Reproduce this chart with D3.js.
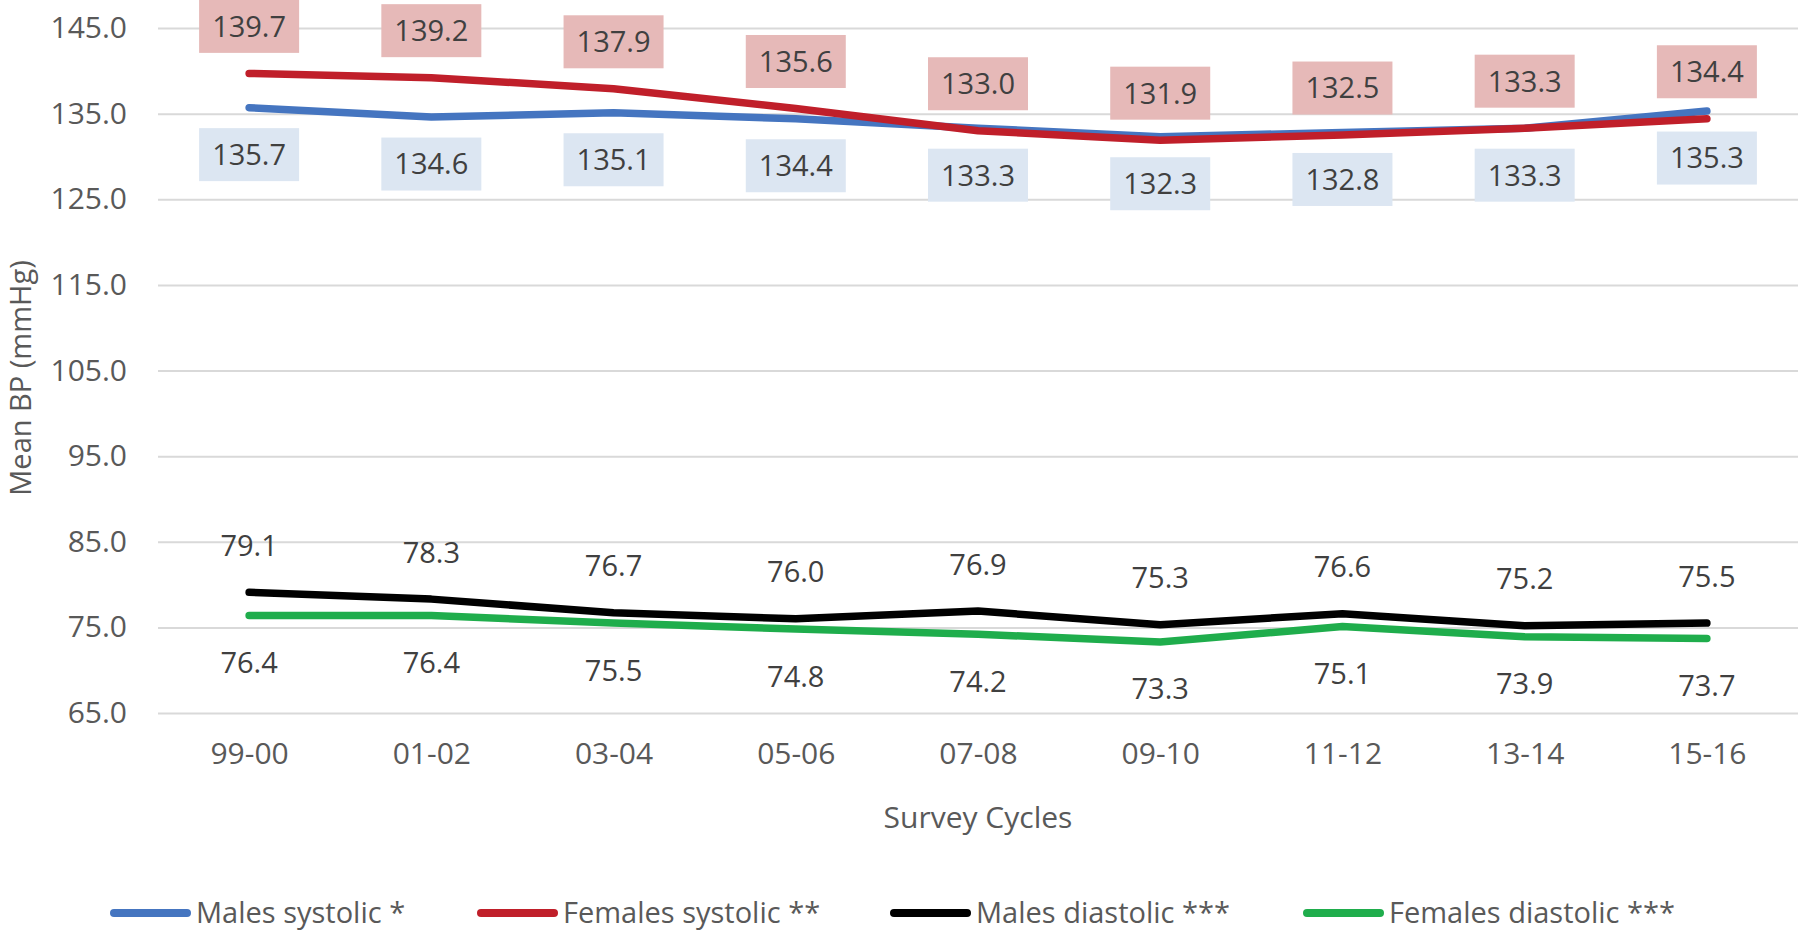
<!DOCTYPE html>
<html>
<head>
<meta charset="utf-8">
<script src="https://cdn.jsdelivr.net/npm/d3@7"></script>
<style>
  body { margin: 0; background: #fff; }
  text { font-family: "Open Sans", "Noto Sans", sans-serif; }
</style>
</head>
<body>
<div id="chart"></div>
<script>
var cycles = ["99-00", "01-02", "03-04", "05-06", "07-08", "09-10", "11-12", "13-14", "15-16"];
var malesSystolic = [135.7, 134.6, 135.1, 134.4, 133.3, 132.3, 132.8, 133.3, 135.3];
var femalesSystolic = [139.7, 139.2, 137.9, 135.6, 133.0, 131.9, 132.5, 133.3, 134.4];
var malesDiastolic = [79.1, 78.3, 76.7, 76.0, 76.9, 75.3, 76.6, 75.2, 75.5];
var femalesDiastolic = [76.4, 76.4, 75.5, 74.8, 74.2, 73.3, 75.1, 73.9, 73.7];
var yTicks = [65, 75, 85, 95, 105, 115, 125, 135, 145];

window.onload = function() {
    var W = 1800, H = 930;
    var plot = {left: 158, right: 1798, top: 28, bottom: 713};

    var svg = d3.select("#chart").append("svg")
        .attr("width", W)
        .attr("height", H);

    var x = d3.scalePoint()
        .domain(cycles)
        .range([plot.left, plot.right])
        .padding(0.5);

    var y = d3.scaleLinear()
        .domain([65, 145])
        .range([plot.bottom, plot.top]);

    // gridlines + y labels
    var yAxis = svg.append("g")
        .attr("transform", "translate(" + plot.left + ",0)")
        .call(d3.axisLeft(y)
            .tickValues(yTicks)
            .tickFormat(d3.format(".1f"))
            .tickSize(-(plot.right - plot.left))
            .tickPadding(31));
    yAxis.select(".domain").remove();
    yAxis.selectAll(".tick line").attr("stroke", "#d9d9d9").attr("stroke-width", 2);
    yAxis.selectAll(".tick text")
        .attr("fill", "#595959")
        .style("font-size", "30px");

    // x labels
    var xAxis = svg.append("g")
        .attr("transform", "translate(0," + plot.bottom + ")")
        .call(d3.axisBottom(x).tickSize(0).tickPadding(30));
    xAxis.select(".domain").remove();
    xAxis.selectAll(".tick text")
        .attr("fill", "#595959")
        .style("font-size", "30px");

    svg.append("text")
        .attr("x", (plot.left + plot.right) / 2)
        .attr("y", 828)
        .attr("text-anchor", "middle")
        .attr("fill", "#595959")
        .style("font-size", "30px")
        .text("Survey Cycles");

    svg.append("text")
        .attr("transform", "translate(31,378) rotate(-90)")
        .attr("text-anchor", "middle")
        .attr("fill", "#595959")
        .style("font-size", "29px")
        .text("Mean BP (mmHg)");

    var series = [
        {name: "Males systolic *", values: malesSystolic, color: "#4575c0", pos: 1, box: "#dce6f2"},
        {name: "Females systolic **", values: femalesSystolic, color: "#c01f2a", pos: -1, box: "#e6b9b8"},
        {name: "Males diastolic ***", values: malesDiastolic, color: "#000000", pos: -1, box: null},
        {name: "Females diastolic ***", values: femalesDiastolic, color: "#1fad4c", pos: 1, box: null}
    ];

    var line = d3.line()
        .x(function(d, i) { return x(cycles[i]); })
        .y(function(d) { return y(d); });

    series.forEach(function(s) {
        svg.append("path")
            .datum(s.values)
            .attr("fill", "none")
            .attr("stroke", s.color)
            .attr("stroke-width", 7.5)
            .attr("stroke-linecap", "round")
            .attr("stroke-linejoin", "round")
            .attr("d", line);
    });

    // data labels
    series.forEach(function(s) {
        var g = svg.append("g");
        s.values.forEach(function(v, i) {
            var cx = x(cycles[i]);
            var cy = y(v) + s.pos * 47;
            if (s.box) {
                g.append("rect")
                    .attr("x", cx - 50)
                    .attr("y", cy - 26.5)
                    .attr("width", 100)
                    .attr("height", 53)
                    .attr("fill", s.box);
            }
            g.append("text")
                .attr("x", cx)
                .attr("y", cy)
                .attr("dy", "0.36em")
                .attr("text-anchor", "middle")
                .attr("fill", "#404040")
                .style("font-size", "29px")
                .text(d3.format(".1f")(v));
        });
    });

    // legend
    var legendX = [110, 477, 890, 1303];
    var legY = 913;
    series.forEach(function(s, i) {
        svg.append("line")
            .attr("x1", legendX[i] + 4)
            .attr("x2", legendX[i] + 77)
            .attr("y1", legY)
            .attr("y2", legY)
            .attr("stroke", s.color)
            .attr("stroke-width", 8)
            .attr("stroke-linecap", "round");
        svg.append("text")
            .attr("x", legendX[i] + 86)
            .attr("y", legY)
            .attr("dy", "0.36em")
            .attr("fill", "#595959")
            .style("font-size", "29px")
            .text(s.name);
    });
};
</script>
</body>
</html>
